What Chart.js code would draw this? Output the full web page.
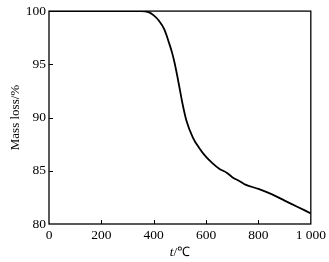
<!DOCTYPE html>
<html>
<head>
<meta charset="utf-8">
<script src="https://cdn.jsdelivr.net/npm/chart.js@4"></script>
<style>
  body { margin: 0; background: #fff; }
  #wrap { width: 329px; height: 262px; }
</style>
</head>
<body>
<div id="wrap"><canvas id="tga"></canvas></div>
<script>
// temperature (°C) and mass (%)
const temps = [0, 100, 200, 300, 350, 380, 400, 420, 440, 460, 470, 480, 490, 500, 510, 525, 550, 575, 600, 625, 650, 680, 700, 730, 750, 800, 850, 900, 950, 1000];
const mass = [100, 100, 100, 100, 100, 99.9, 99.6, 99.1, 98.3, 96.9, 96.1, 95.1, 93.9, 92.6, 91.3, 89.7, 88.1, 87.1, 86.3, 85.7, 85.2, 84.8, 84.4, 84.0, 83.7, 83.3, 82.8, 82.2, 81.6, 81.0];
const xTicks = [0, 200, 400, 600, 800, 1000];
const xTickLabels = ['0', '200', '400', '600', '800', '1 000'];
const yTicks = [80, 85, 90, 95, 100];

const serif = 'Liberation Serif';

// box round the plot + short inward ticks + x title
const framePlugin = {
  id: 'frame',
  afterDraw(chart) {
    const ctx = chart.ctx;
    const a = chart.chartArea;
    const xs = chart.scales.x, ys = chart.scales.y;
    ctx.save();
    ctx.strokeStyle = '#000';
    ctx.lineWidth = 1.3;
    ctx.strokeRect(a.left, a.top, a.right - a.left, a.bottom - a.top);
    ctx.lineWidth = 1;
    ctx.beginPath();
    xTicks.slice(1, -1).forEach(v => {
      const px = Math.round(xs.getPixelForValue(v)) + 0.5;
      ctx.moveTo(px, a.bottom);
      ctx.lineTo(px, a.bottom - 4);
    });
    yTicks.slice(1, -1).forEach(v => {
      const py = Math.round(ys.getPixelForValue(v)) + 0.5;
      ctx.moveTo(a.left, py);
      ctx.lineTo(a.left + 4, py);
    });
    ctx.stroke();

    // x title: italic t, upright /℃
    const cx = (a.left + a.right) / 2;
    const ty = 253;
    ctx.fillStyle = '#000';
    ctx.textBaseline = 'middle';
    ctx.font = 'italic 13px "' + serif + '"';
    const tw = ctx.measureText('t').width;
    ctx.font = '13px "' + serif + '"';
    const rw = ctx.measureText('/℃').width;
    const start = cx - (tw + rw) / 2;
    ctx.textAlign = 'left';
    ctx.font = 'italic 13px "' + serif + '"';
    ctx.fillText('t', start, ty);
    ctx.font = '13px "' + serif + '"';
    ctx.fillText('/℃', start + tw, ty);
    ctx.restore();
  }
};

new Chart(document.getElementById('tga'), {
  type: 'line',
  data: {
    labels: temps,
    datasets: [{
      data: temps.map((t, i) => ({ x: t, y: mass[i] })),
      borderColor: '#000',
      borderWidth: 1.8,
      pointRadius: 0,
      cubicInterpolationMode: 'monotone',
      fill: false
    }]
  },
  options: {
    responsive: true,
    maintainAspectRatio: false,
    animation: false,
    layout: { padding: { top: 8, right: 16, left: 8, bottom: 0 } },
    plugins: { legend: { display: false }, tooltip: { enabled: false } },
    scales: {
      x: {
        type: 'linear',
        min: 0,
        max: 1000,
        afterBuildTicks: s => { s.ticks = xTicks.map(v => ({ value: v })); },
        afterFit: s => { s.height = 38; },
        grid: { display: false, drawTicks: false },
        border: { display: false },
        ticks: {
          color: '#000',
          padding: 3,
          maxRotation: 0,
          font: { family: serif, size: 13.5 },
          callback: v => xTickLabels[xTicks.indexOf(v)]
        }
      },
      y: {
        min: 80,
        max: 100,
        afterBuildTicks: s => { s.ticks = yTicks.map(v => ({ value: v })); },
        afterFit: s => { s.width = 41; },
        grid: { display: false, drawTicks: false },
        border: { display: false },
        title: {
          display: true,
          text: 'Mass loss/%',
          color: '#000',
          padding: { top: 0, bottom: 4 },
          font: { family: serif, size: 13 }
        },
        ticks: {
          color: '#000',
          padding: 3,
          font: { family: serif, size: 13.5 }
        }
      }
    }
  },
  plugins: [framePlugin]
});
</script>
</body>
</html>
